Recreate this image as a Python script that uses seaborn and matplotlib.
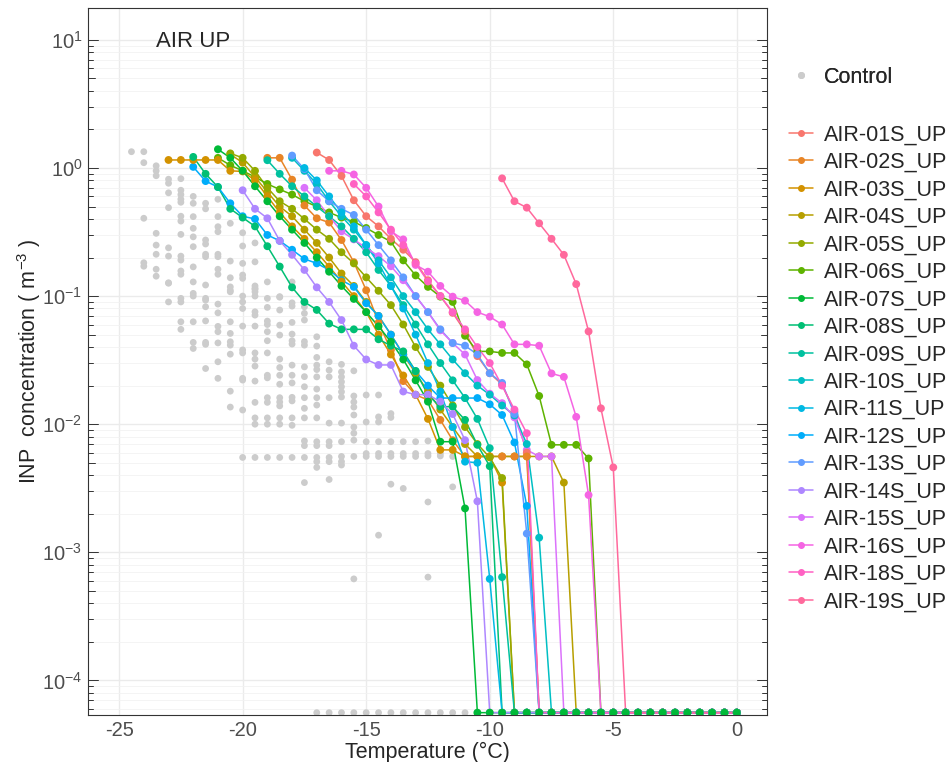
import numpy as np
import pandas as pd
import matplotlib
matplotlib.use("Agg")
import matplotlib.pyplot as plt
import matplotlib.ticker as mticker
from matplotlib.lines import Line2D
import seaborn as sns

FLOOR = 5.6e-5  # value used to draw "no INP detected"

# ---- control (blank) measurements, one list per temperature column ----
control_cols = [-24.5, -24.0, -23.5, -23.0, -22.5, -22.0, -21.5, -21.0, -20.5, -20.0,
                -19.5, -19.0, -18.5, -18.0, -17.5, -17.0, -16.5, -16.0, -15.5, -15.0,
                -14.5, -14.0, -13.5, -13.0, -12.5, -12.0, -11.5]
control_vals = [
    [1.34],
    [1.34, 1.10, 0.405, 0.182, 0.171],
    [1.04, 0.95, 0.87, 0.309, 0.25, 0.212, 0.162, 0.143],
    [0.817, 0.76, 0.64, 0.49, 0.238, 0.205, 0.127, 0.126, 0.09],
    [0.825, 0.67, 0.62, 0.57, 0.54, 0.42, 0.385, 0.303, 0.205, 0.191, 0.157, 0.148, 0.096,
     0.09, 0.063, 0.055],
    [0.60, 0.53, 0.417, 0.338, 0.29, 0.243, 0.169, 0.129, 0.105, 0.1, 0.063, 0.0435, 0.039],
    [0.53, 0.48, 0.274, 0.255, 0.212, 0.203, 0.122, 0.096, 0.093, 0.0825, 0.064, 0.0435,
     0.042, 0.0272],
    [0.57, 0.417, 0.348, 0.318, 0.212, 0.203, 0.162, 0.148, 0.0866, 0.074, 0.058, 0.0527,
     0.0431, 0.0307, 0.0228],
    [0.37, 0.1876, 0.139, 0.118, 0.108, 0.111, 0.063, 0.0511, 0.044, 0.0414, 0.0352, 0.0181,
     0.0136],
    [0.312, 0.246, 0.18, 0.146, 0.1375, 0.1, 0.09, 0.08, 0.0583, 0.038, 0.036, 0.0228,
     0.0221, 0.0129, 0.0055],
    [0.26, 0.185, 0.115, 0.108, 0.12, 0.113, 0.1, 0.0754, 0.071, 0.0583, 0.036, 0.0322,
     0.0284, 0.0217, 0.0148, 0.0112, 0.01, 0.0055],
    [0.129, 0.096, 0.0816, 0.0638, 0.06, 0.0527, 0.0448, 0.036, 0.0241, 0.023, 0.0161,
     0.0148, 0.0112, 0.01, 0.0055],
    [0.099, 0.098, 0.0778, 0.0593, 0.0496, 0.0322, 0.0277, 0.0241, 0.0205, 0.0161, 0.0149,
     0.0139, 0.0112, 0.01, 0.0055],
    [0.129, 0.0886, 0.0835, 0.0623, 0.0505, 0.0448, 0.0422, 0.0289, 0.0241, 0.021, 0.0162,
     0.0152, 0.0112, 0.0098, 0.0055],
    [0.0825, 0.0733, 0.065, 0.0441, 0.0414, 0.028, 0.0235, 0.0196, 0.0161, 0.0133, 0.0112,
     0.0074, 0.0068, 0.0055, 0.0035],
    [0.0481, 0.0407, 0.0332, 0.0289, 0.0267, 0.0234, 0.0188, 0.0161, 0.0141, 0.0112, 0.0073,
     0.0068, 0.0055, 0.0051, 0.0046],
    [0.0307, 0.0264, 0.0234, 0.0161, 0.0102, 0.0073, 0.0068, 0.0055, 0.0051, 0.0037],
    [0.0293, 0.0256, 0.0234, 0.0214, 0.0196, 0.0179, 0.0163, 0.0102, 0.0073, 0.0056, 0.0051,
     0.0048],
    [0.0261, 0.0166, 0.0149, 0.0136, 0.0118, 0.0095, 0.0085, 0.0075, 0.0056, 0.00062],
    [0.0169, 0.0104, 0.0073, 0.0059, 0.0056],
    [0.0169, 0.0114, 0.0104, 0.0073, 0.0059, 0.0056, 0.00136],
    [0.0121, 0.0113, 0.0073, 0.0059, 0.0056, 0.0034],
    [0.0073, 0.0059, 0.0056, 0.00315],
    [0.0073, 0.0059, 0.0056],
    [0.0074, 0.0059, 0.00565, 0.00247, 0.00064],
    [0.0059, 0.00565],
    [0.00324, 0.0056],
]
# blanks with nothing frozen
control_zero_temp = [-17.0, -16.5, -16.0, -15.5, -15.0, -14.5, -14.0, -13.5, -13.0,
                     -12.5, -12.0, -11.5, -11.0]

# ---- air samples: first temperature, then INP per 0.5 degC step ----
sample_names = ["AIR-01S_UP", "AIR-02S_UP", "AIR-03S_UP", "AIR-04S_UP", "AIR-05S_UP",
                "AIR-06S_UP", "AIR-07S_UP", "AIR-08S_UP", "AIR-09S_UP", "AIR-10S_UP",
                "AIR-11S_UP", "AIR-12S_UP", "AIR-13S_UP", "AIR-14S_UP", "AIR-15S_UP",
                "AIR-16S_UP", "AIR-18S_UP", "AIR-19S_UP"]
sample_start = [-17.0, -19.0, -23.0, -20.5, -20.5, -21.0, -21.0, -22.0, -19.0, -18.0,
                -17.5, -22.0, -18.0, -20.0, -17.5, -16.5, -15.5, -9.5]
s01 = [1.32, 1.155, 0.866, 0.56, 0.42, 0.35, 0.28, 0.23, 0.184, 0.133, 0.1, 0.074, 0.053,
       0.034, 0.025, 0.0204, 0.0125, 0.006]
s02 = [1.2, 1.2, 0.81, 0.51, 0.405, 0.375, 0.274, 0.184, 0.111, 0.062, 0.038, 0.0217,
       0.0169, 0.0155, 0.0108, 0.0075, 0.0056, 0.0056, 0.0056, 0.0056, 0.0056, 0.0056]
s03 = [1.155, 1.155, 1.155, 1.155, 1.155, 0.95, 0.94, 0.8, 0.6, 0.45, 0.35, 0.28, 0.22,
       0.17, 0.13, 0.1, 0.075, 0.05, 0.035, 0.024, 0.017, 0.011, 0.0063, 0.0063, 0.0056,
       0.0056, 0.0056, 0.0035]
s04 = [1.28, 1.1, 0.85, 0.65, 0.5, 0.42, 0.33, 0.26, 0.2, 0.15, 0.12, 0.09, 0.07, 0.05,
       0.035, 0.025, 0.018, 0.013, 0.0095, 0.007, 0.0056, 0.0056, 0.0056, 0.0056, 0.0056,
       0.0056, 0.0056, 0.0035]
s05 = [1.3, 1.2, 0.95, 0.7, 0.55, 0.48, 0.4, 0.33, 0.28, 0.22, 0.18, 0.14, 0.11, 0.085,
       0.06, 0.04, 0.028, 0.02, 0.014, 0.0095, 0.007, 0.0055, 0.0038]
s06 = [1.2, 1.05, 0.95, 0.85, 0.75, 0.68, 0.62, 0.55, 0.5, 0.45, 0.41, 0.38, 0.34, 0.3,
       0.266, 0.19, 0.145, 0.118, 0.099, 0.09, 0.049, 0.037, 0.037, 0.036, 0.036, 0.0293,
       0.0166, 0.0069, 0.0069, 0.0069, 0.0054]
s07 = [1.4, 1.2, 0.95, 0.72, 0.55, 0.42, 0.33, 0.26, 0.2, 0.155, 0.12, 0.095, 0.075, 0.058,
       0.044, 0.032, 0.022, 0.015, 0.0073, 0.0073, 0.0022]
s08 = [1.22, 0.9, 0.71, 0.48, 0.41, 0.35, 0.245, 0.17, 0.117, 0.09, 0.078, 0.061, 0.055,
       0.055, 0.055, 0.046, 0.041, 0.037, 0.026, 0.0169, 0.0137, 0.0137, 0.0108, 0.0069,
       0.0047]
s09 = [1.15, 0.9, 0.72, 0.6, 0.5, 0.42, 0.35, 0.28, 0.22, 0.16, 0.12, 0.085, 0.06, 0.042,
       0.03, 0.022, 0.016, 0.011, 0.0065, 0.00064]
s10 = [1.2, 0.95, 0.75, 0.55, 0.42, 0.33, 0.25, 0.19, 0.14, 0.1, 0.075, 0.055, 0.042,
       0.032, 0.025, 0.02, 0.017, 0.014, 0.0117, 0.007, 0.0013]
s11 = [1.0, 0.8, 0.6, 0.45, 0.35, 0.25, 0.18, 0.12, 0.08, 0.05, 0.03, 0.018, 0.0095,
       0.0051, 0.005, 0.00062]
s12 = [1.02, 0.79, 0.71, 0.53, 0.42, 0.40, 0.30, 0.27, 0.23, 0.195, 0.18, 0.16, 0.133,
       0.118, 0.088, 0.07, 0.05, 0.035, 0.026, 0.02, 0.016, 0.016, 0.016, 0.016, 0.0143,
       0.0118, 0.0072, 0.0023]
s13 = [1.25, 0.98, 0.67, 0.55, 0.48, 0.43, 0.33, 0.25, 0.19, 0.14, 0.1, 0.075, 0.055,
       0.043, 0.041, 0.035, 0.025, 0.021, 0.012, 0.0014]
s14 = [0.67, 0.48, 0.405, 0.27, 0.21, 0.16, 0.117, 0.09, 0.065, 0.041, 0.032, 0.029, 0.029,
       0.018, 0.017, 0.017, 0.015, 0.012, 0.0075, 0.0025]
s15 = [0.70, 0.56, 0.42, 0.32, 0.277, 0.237, 0.205, 0.171, 0.133, 0.1, 0.075, 0.054, 0.043,
       0.035, 0.0221, 0.0173, 0.0146, 0.0113, 0.0063, 0.0056, 0.0056]
s16 = [0.95, 0.95, 0.89, 0.70, 0.50, 0.32, 0.277, 0.175, 0.155, 0.12, 0.099, 0.092, 0.075,
       0.069, 0.060, 0.042, 0.042, 0.041, 0.0249, 0.0234, 0.0114, 0.0028]
s18 = [0.75, 0.6, 0.45, 0.33, 0.25, 0.18, 0.13, 0.1, 0.075, 0.055, 0.04, 0.03, 0.02, 0.013,
       0.0085]
s19 = [0.83, 0.55, 0.49, 0.37, 0.28, 0.21, 0.124, 0.053, 0.0133, 0.0046]
sample_values = [s01, s02, s03, s04, s05, s06, s07, s08, s09, s10, s11, s12, s13, s14,
                 s15, s16, s18, s19]

sample_colors = ["#F8766D", "#E88526", "#D39200", "#B79F00", "#93AA00", "#5EB300",
                 "#00BA38", "#00BF74", "#00C19F", "#00BFC4", "#00B9E3", "#00ADFA",
                 "#619CFF", "#AE87FF", "#DB72FB", "#F564E3", "#FF61C3", "#FF699C"]

# long table: every sample runs to 0 degC, undetected steps drawn at FLOOR
rows = []
for name, t0, vals in zip(sample_names, sample_start, sample_values):
    temps = np.arange(t0, 0.001, 0.5)
    for i, t in enumerate(temps):
        v = vals[i] if i < len(vals) else FLOOR
        onset = t0 + 0.5 * len(vals)
        rows.append((name, round(float(t), 1), v, v == FLOOR, onset))
samples = pd.DataFrame(rows, columns=["sample", "temperature", "inp", "undetected", "onset"])

# points: detected values first, then the undetected ones, earliest onset on top
points = samples.sort_values(["undetected", "onset"], ascending=[True, False],
                             kind="stable")

ctrl_t, ctrl_v = [], []
for t, vals in zip(control_cols, control_vals):
    ctrl_t += [t] * len(vals)
    ctrl_v += vals
ctrl_t += control_zero_temp
ctrl_v += [FLOOR] * len(control_zero_temp)
ctrl = pd.DataFrame({"temperature": ctrl_t, "inp": ctrl_v})

sns.set_theme(style="whitegrid")
plt.rcParams["font.family"] = ["Liberation Sans", "DejaVu Sans"]
plt.rcParams["mathtext.fontset"] = "custom"
plt.rcParams["mathtext.rm"] = "Liberation Sans"
plt.rcParams["mathtext.it"] = "Liberation Sans:italic"
plt.rcParams["mathtext.bf"] = "Liberation Sans:bold"

fig = plt.figure(figsize=(9.49, 7.62), dpi=100)
ax = fig.add_axes([0.0927, 0.0617, 0.716, 0.928])

sns.scatterplot(data=ctrl, x="temperature", y="inp", color="#CCCCCC", s=24,
                edgecolor="none", ax=ax, zorder=2, legend=False)
sns.lineplot(data=samples, x="temperature", y="inp", hue="sample",
             hue_order=sample_names, palette=sample_colors, linewidth=1.1, sort=True,
             estimator=None, ax=ax, zorder=3, legend=False)
sns.scatterplot(data=points, x="temperature", y="inp", hue="sample",
                hue_order=sample_names, palette=sample_colors, s=32, edgecolor="none",
                ax=ax, zorder=4, legend=False)

ax.set_yscale("log")
ax.set_ylim(10 ** -4.27, 10 ** 1.25)
ax.set_xlim(-26.26, 1.24)
ax.set_xticks([-25, -20, -15, -10, -5, 0])
ax.set_xticklabels(["-25", "-20", "-15", "-10", "-5", "0"])
ax.set_yticks([10.0 ** k for k in range(-4, 2)])
ax.set_yticklabels([r"$\mathregular{10^{%d}}$" % k for k in range(-4, 2)])
ax.yaxis.set_minor_locator(mticker.LogLocator(base=10, subs=np.arange(2, 10), numticks=20))
ax.grid(which="major", color="#EBEBEB", linewidth=1.0)
ax.grid(which="minor", axis="y", color="#F2F2F2", linewidth=0.6)
ax.grid(which="minor", axis="x", visible=False)
ax.tick_params(axis="both", which="both", length=0, labelsize=14.5, labelcolor="#4D4D4D",
               pad=4)
for sp in ax.spines.values():
    sp.set_edgecolor("#333333")
    sp.set_linewidth(0.8)

# log ticks drawn inside the panel on both sides
for k in range(-5, 2):
    for m in range(1, 10):
        v = m * 10.0 ** k
        if not (10 ** -4.27 < v < 10 ** 1.25):
            continue
        ln = 0.015 if m == 1 else (0.01 if m == 5 else 0.0075)
        ax.plot([0, ln], [v, v], transform=ax.get_yaxis_transform(), color="#333333",
                lw=0.7, clip_on=False, zorder=5)
        ax.plot([1 - ln, 1], [v, v], transform=ax.get_yaxis_transform(), color="#333333",
                lw=0.7, clip_on=False, zorder=5)

ax.set_xlabel("Temperature (\u00b0C)", fontsize=15.5, labelpad=2)
ax.set_ylabel(r"INP  concentration ( m$^{\mathregular{-3}}$ )", fontsize=15.5)
ax.yaxis.set_label_coords(-0.066, 0.5)
ax.text(-23.5, 10 ** 0.984, "AIR UP", fontsize=16, ha="left", va="center")

# legends to the right of the panel
h_ctrl = [Line2D([], [], ls="none", marker="o", color="#CCCCCC", markersize=4)]
leg1 = fig.legend(h_ctrl, ["Control"], loc="upper left", bbox_to_anchor=(0.811, 0.938),
                  frameon=False, fontsize=15.5, handlelength=1.1, handletextpad=0.5)
h_s = [Line2D([], [], color=c, marker="o", markersize=4, lw=1.1) for c in sample_colors]
fig.legend(h_s, sample_names, loc="upper left", bbox_to_anchor=(0.811, 0.862),
           frameon=False, fontsize=15.5, handlelength=1.1, handletextpad=0.5,
           labelspacing=0.30)
fig.add_artist(leg1)

fig.savefig("out.png", dpi=100)
